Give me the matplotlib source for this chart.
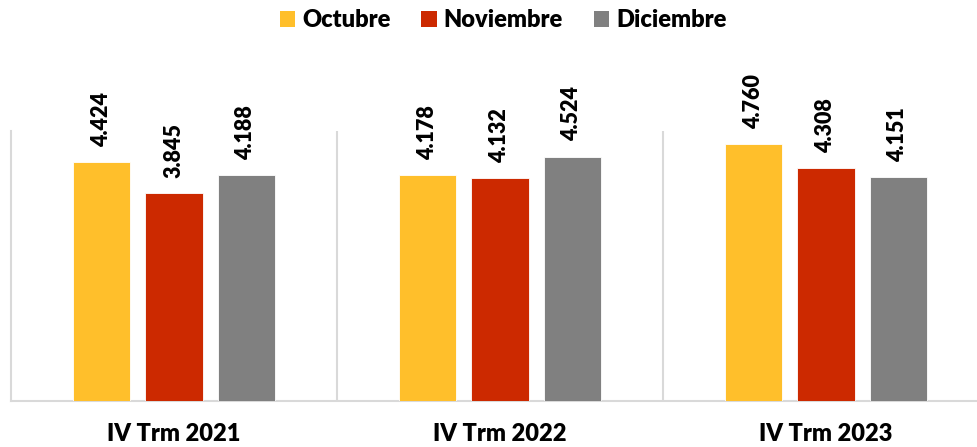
import matplotlib
matplotlib.use("Agg")
import matplotlib.pyplot as plt
from matplotlib.patches import Patch
import numpy as np

plt.rcParams['font.family'] = ['Lato', 'DejaVu Sans']
plt.rcParams['font.weight'] = 'heavy'

categories = ["IV Trm 2021", "IV Trm 2022", "IV Trm 2023"]
series_names = ["Octubre", "Noviembre", "Diciembre"]
octubre = [4.424, 4.178, 4.760]
noviembre = [3.845, 4.132, 4.308]
diciembre = [4.188, 4.524, 4.151]
colors = ["#FFBF2B", "#CC2900", "#808080"]

fig = plt.figure(figsize=(9.77, 4.47), dpi=100)
ax = fig.add_axes([11 / 977, 1 - 401 / 447, 978 / 977, 270 / 447])

x = np.arange(len(categories))
width = 0.175
step = 0.221
for i, (vals, color) in enumerate(zip([octubre, noviembre, diciembre], colors)):
    pos = x + (i - 1) * step
    bars = ax.bar(pos, vals, width, color=color, edgecolor="white", linewidth=0.6, zorder=3)
    for b, v in zip(bars, vals):
        ax.annotate(f"{v:.3f}", (b.get_x() + b.get_width() / 2, v),
                    xytext=(0, 11), textcoords="offset points",
                    rotation=90, ha="center", va="bottom",
                    fontsize=15.5, fontweight="heavy", color="black")

ax.set_xlim(-0.5, 2.5)
ax.set_ylim(0, 5)
ax.set_yticks([])
ax.set_xticks(x)
ax.set_xticklabels(categories, fontsize=17, fontweight="heavy")
ax.tick_params(axis="x", length=0, pad=16)

grid_color = "#D9D9D9"
for sep in [0.5, 1.5]:
    ax.axvline(sep, color=grid_color, lw=1.5, zorder=1)
for side in ["top", "right"]:
    ax.spines[side].set_visible(False)
for side in ["left", "bottom"]:
    ax.spines[side].set_color(grid_color)
    ax.spines[side].set_linewidth(1.5)

handles = [Patch(facecolor=c, edgecolor="none") for c in colors]
fig.legend(handles, series_names, loc="center", bbox_to_anchor=(0.515, 1 - 20 / 447),
           ncol=3, frameon=False, handlelength=0.65, handleheight=0.65,
           handletextpad=0.3, columnspacing=1.3, prop={"weight": "heavy", "size": 17})

fig.savefig("out.png", dpi=100)
